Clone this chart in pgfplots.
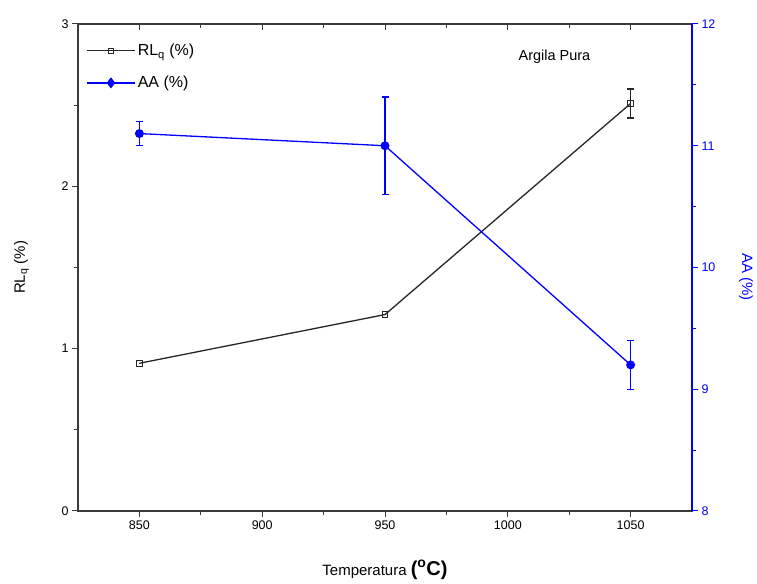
\documentclass[border=0pt]{standalone}
\usepackage{fontspec}
\setmainfont{Liberation Sans}
\setsansfont{Liberation Sans}
\usepackage{pgfplots}
\pgfplotsset{compat=1.18}
\definecolor{aablue}{RGB}{0,0,255}
\definecolor{frame}{RGB}{60,60,60}
\begin{document}
\begin{tikzpicture}
\pgfplotsset{
  every axis/.append style={
    scale only axis, width=614pt, height=487pt,
    xmin=825, xmax=1075,
    /pgf/number format/assume math mode=true,
    /pgf/number format/1000 sep={},
    tick label style={font=\fontsize{12.5}{12.5}\selectfont},
    major tick length=6pt, minor tick length=4pt,
  },
}
\begin{axis}[
  ymin=0, ymax=3, ytick={0,1,2,3}, minor y tick num=1,
  xtick={850,900,...,1050}, minor x tick num=1,
  xtick pos=left, ytick pos=left,
  tick align=outside,
  axis line style={frame, line width=1.4pt},
  every tick/.style={frame, line width=1pt},
  xlabel={Temperatura {\fontsize{20}{20}\selectfont\bfseries (\textsuperscript{o}C)}},
  xlabel style={at={(axis description cs:0.5,-0.121)}, anchor=center, font=\fontsize{15}{15}\selectfont},
  ylabel={RL\textsubscript{q} (\%)},
  ylabel style={at={(axis description cs:-0.092,0.5)}, anchor=center, font=\fontsize{15}{15}\selectfont},
  legend style={at={(axis description cs:0.008,0.967)}, anchor=north west, draw=none, fill=none,
    font=\fontsize{16}{16}\selectfont, row sep=15pt, cells={anchor=west}},
  legend image code/.code={\draw[mark repeat=2,mark phase=2,#1] plot coordinates {(0cm,0cm) (0.85cm,0cm) (1.7cm,0cm)};},
]
\coordinate (SW) at (rel axis cs:0,0);
\coordinate (NE) at (rel axis cs:1,1);
\addplot[black!85, line width=1.3pt, mark=square, mark size=2.8pt, mark options={solid, line width=1pt}]
  coordinates {(850,0.91) (950,1.21) (1050,2.51)};
\addlegendentry{RL\textsubscript{q} (\%)}
\addlegendimage{aablue, line width=1.3pt, mark=diamond*, mark size=4.5pt}
\addlegendentry{AA (\%)}
\addplot[black!85, only marks, mark=square, mark size=2.8pt, mark options={line width=1pt}, forget plot,
  error bars/.cd, y dir=both, y explicit, error mark=|,
  error bar style={line width=1.3pt, black!85},
  error mark options={black!85, mark size=3.5pt, line width=1.3pt}]
  coordinates {(1050,2.51) +- (0,0.09)};
\node[font=\fontsize{14.5}{14.5}\selectfont] at (axis cs:1019,2.80) {Argila Pura};
\end{axis}
\begin{axis}[
  ymin=0, ymax=1, axis y line=none, axis x line*=top,
  xtick={850,900,...,1050}, minor x tick num=1, xticklabels={},
  tick align=inside,
  axis line style={frame, line width=1.4pt},
  every tick/.style={frame, line width=1pt},
]
\end{axis}
\begin{axis}[
  ymin=8, ymax=12, ytick={8,9,10,11,12}, minor y tick num=1,
  axis y line*=right, axis x line=none,
  tick align=outside,
  axis line style={aablue, line width=1.4pt},
  every tick/.style={aablue, line width=1pt},
  yticklabel style={text=aablue},
  ylabel={AA (\%)},
  ylabel style={at={(axis description cs:1.088,0.48)}, anchor=center, rotate=180, text=aablue, font=\fontsize{15}{15}\selectfont},
]
\addplot[aablue, line width=1.3pt, mark=*, mark size=3.8pt,
  error bars/.cd, y dir=both, y explicit, error mark=|,
  error bar style={line width=1.3pt, aablue},
  error mark options={aablue, mark size=3.5pt, line width=1.3pt}]
  coordinates {(850,11.10) +- (0,0.10) (950,11.0) +- (0,0.40) (1050,9.20) +- (0,0.20)};
\end{axis}
\pgfresetboundingbox
\path ([xshift=-78pt,yshift=-73pt]SW) rectangle ([xshift=65pt,yshift=24pt]NE);
\end{tikzpicture}
\end{document}
